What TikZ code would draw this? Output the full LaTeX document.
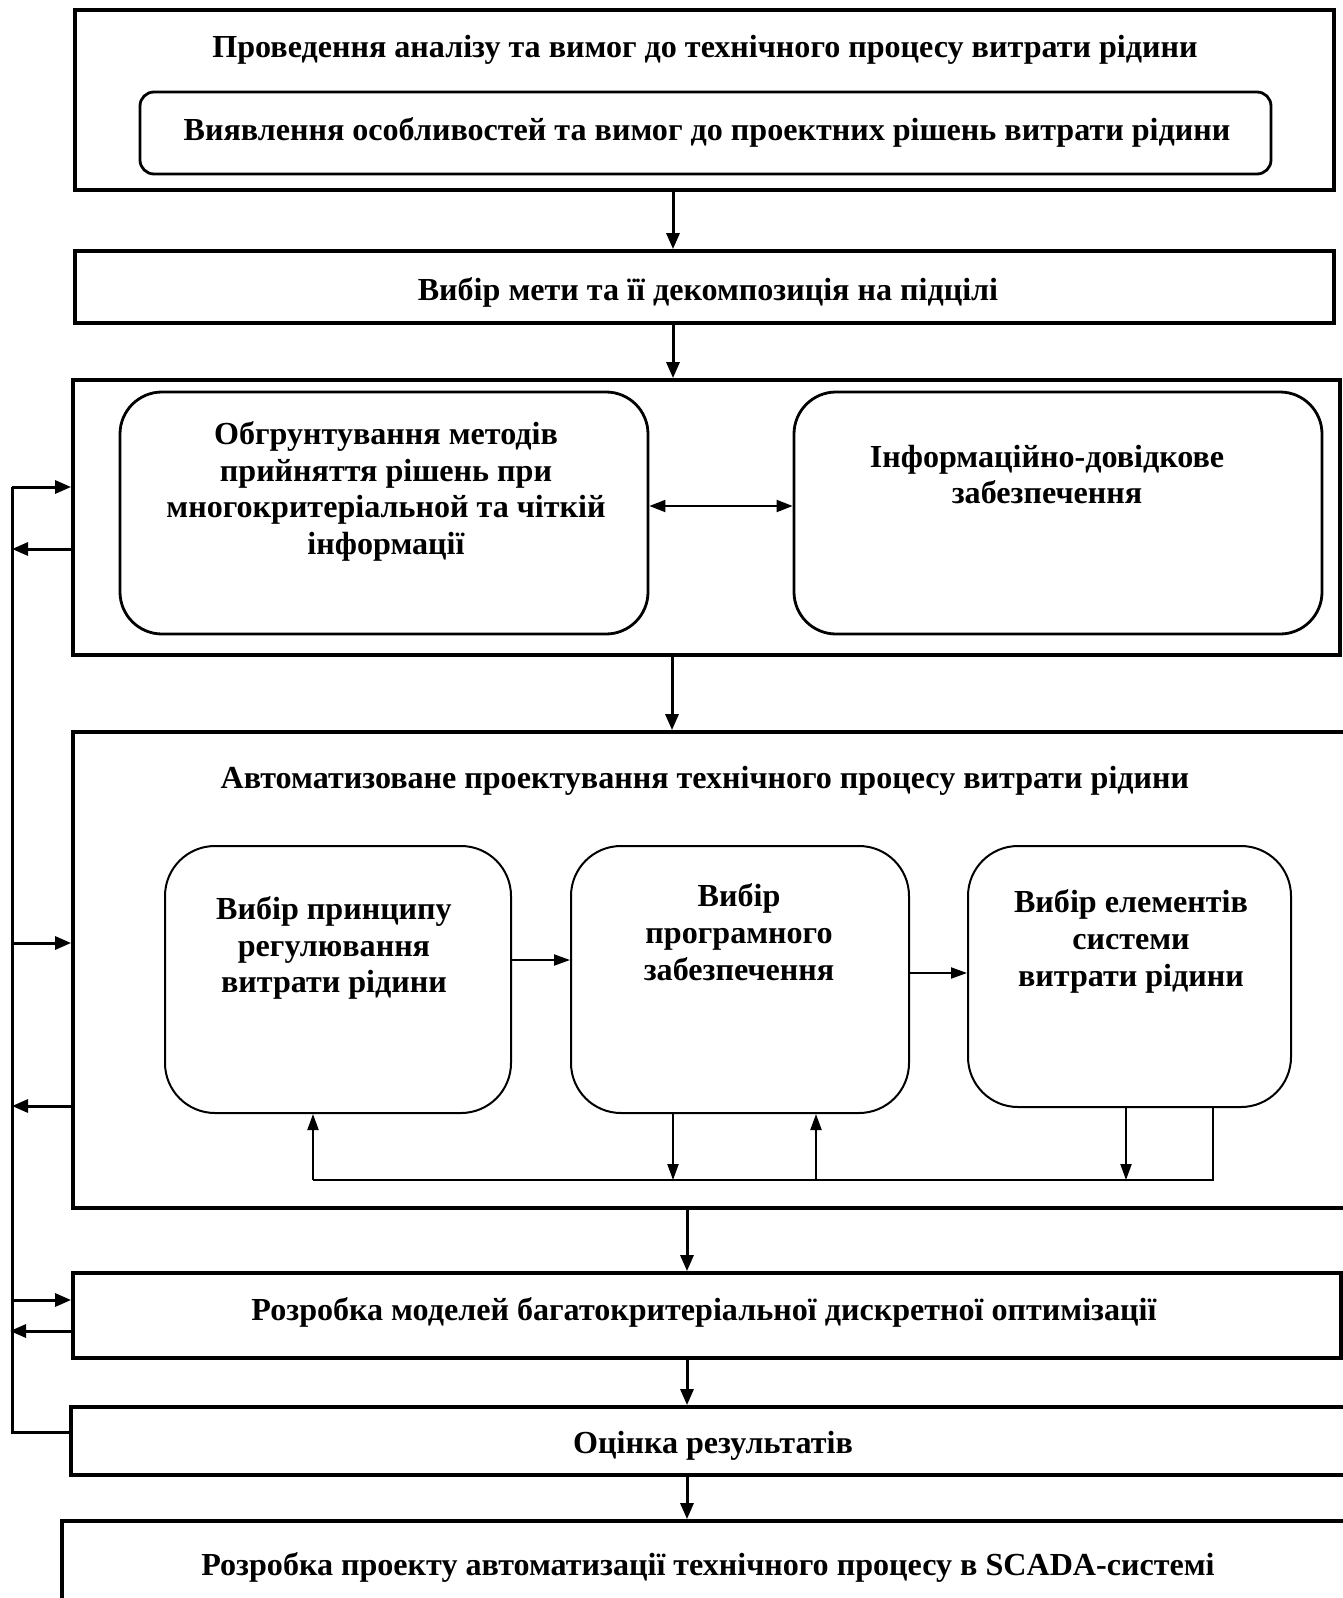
\documentclass[tikz,border=0pt]{standalone}
\usepackage{fontspec}
\setmainfont{Liberation Serif}
\usetikzlibrary{arrows.meta}
\begin{document}
\begin{tikzpicture}[x=1pt,y=-1pt,
  bigbox/.style={draw, line width=3.8pt, inner sep=0pt},
  rbox/.style={draw, line width=2.8pt, inner sep=0pt},
  sbox/.style={draw, line width=2pt, inner sep=0pt},
  txt/.style={font=\fontsize{32.1}{36.7}\selectfont\bfseries, align=center, inner sep=0pt},
  arr/.style={line width=3pt, -{Triangle[length=16pt,width=13pt]}},
  fbl/.style={line width=3pt},
  sarr/.style={line width=2pt, -{Triangle[length=16pt,width=11pt]}},
  sl/.style={line width=2pt}]
\clip (0,0) rectangle (1343,1598);
\fill[white] (0,0) rectangle (1343,1598);
% boxes
\node[bigbox, minimum width=1259pt, minimum height=180pt] (T) at (704.5,100) {};
\node[rbox, rounded corners=14pt, minimum width=1131pt, minimum height=82pt] (I) at (705.5,133) {};
\node[bigbox, minimum width=1259pt, minimum height=72pt] (M) at (704.5,287) {};
\node[bigbox, minimum width=1267pt, minimum height=275pt] (D) at (706.5,517.5) {};
\node[rbox, rounded corners=42pt, minimum width=528pt, minimum height=242pt] (D1) at (384,513) {};
\node[rbox, rounded corners=42pt, minimum width=528pt, minimum height=242pt] (D2) at (1058,513) {};
\node[bigbox, minimum width=1287pt, minimum height=476pt] (A) at (716.5,970) {};
\node[sbox, rounded corners=50pt, minimum width=346pt, minimum height=267pt] (A1) at (338,979.5) {};
\node[sbox, rounded corners=50pt, minimum width=338pt, minimum height=267pt] (A2) at (740,979.5) {};
\node[sbox, rounded corners=50pt, minimum width=323pt, minimum height=261pt] (A3) at (1129.5,976.5) {};
\node[bigbox, minimum width=1268pt, minimum height=85pt] (R) at (707,1315.5) {};
\node[bigbox, minimum width=1289pt, minimum height=68pt] (O) at (715.5,1441) {};
\node[bigbox, minimum width=1298pt, minimum height=129pt] (S) at (711,1585.5) {};
% texts
\node[txt] (tT) at (705,50) {Проведення аналізу та вимог до технічного процесу витрати рідини};
\node[txt] (tI) at (707,132) {Виявлення особливостей та вимог до проектних рішень витрати рідини};
\node[txt] (tM) at (708,292) {Вибір мети та її декомпозиція на підцілі};
\node[txt] (tD1) at (386,491.5) {Обгрунтування методів\\прийняття рішень при\\многокритеріальной та чіткій\\інформації};
\node[txt] (tD2) at (1047,474.5) {Інформаційно-довідкове\\забезпечення};
\node[txt] (tA) at (705,781) {Автоматизоване проектування технічного процесу витрати рідини};
\node[txt] (tA1) at (334,948) {Вибір принципу\\регулювання\\витрати рідини};
\node[txt] (tA2) at (739,932) {Вибір\\програмного\\забезпечення};
\node[txt] (tA3) at (1131,941.5) {Вибір елементів\\системи\\витрати рідини};
\node[txt] (tR) at (704,1312) {Розробка моделей багатокритеріальної дискретної оптимізації};
\node[txt] (tO) at (713,1446) {Оцінка результатів};
\node[txt] (tS) at (708,1567) {Розробка проекту автоматизації технічного процесу в SCADA-системі};
% main arrows
\coordinate (x1) at (673,0);
\coordinate (x2) at (672,0);
\coordinate (x3) at (687,0);
\draw[arr] (T.south -| x1) -- (M.north -| x1);
\draw[arr] (M.south -| x1) -- (D.north -| x1);
\draw[arr] (D.south -| x2) -- (A.north -| x2);
\draw[arr] (A.south -| x3) -- (R.north -| x3);
\draw[arr] (R.south -| x3) -- (O.north -| x3);
\draw[arr] (O.south -| x3) -- (S.north -| x3);
% double arrow
\draw[line width=2pt, {Triangle[length=16pt,width=12pt]}-{Triangle[length=16pt,width=12pt]}] ([yshift=7pt]D1.east) -- ([yshift=7pt]D2.west);
% inner arrows
\draw[sarr] ([yshift=19.5pt]A1.east) -- ([yshift=19.5pt]A2.west);
\draw[sarr] ([yshift=6.5pt]A2.east) -- ([yshift=3.5pt]A3.west);
% bottom connectors
\coordinate (h1) at (313,1180);
\coordinate (h2) at (673,1180);
\coordinate (h3) at (816,1180);
\coordinate (h4) at (1126,1180);
\coordinate (h5) at (1213,1180);
\draw[sl] (h1) -- (h5) -- (A3.south -| h5);
\draw[sarr] (h1) -- (A1.south -| h1);
\draw[sarr] (A2.south -| h2) -- (h2);
\draw[sarr] (h3) -- (A2.south -| h3);
\draw[sarr] (A3.south -| h4) -- (h4);
% feedback
\coordinate (ftop) at (12,487);
\coordinate (f2) at (12,549);
\coordinate (f3) at (12,943);
\coordinate (f4) at (12,1106);
\coordinate (f5) at (12,1300);
\coordinate (f6) at (10,1331);
\draw[fbl] ([yshift=9pt]O.west) -| (ftop);
\draw[arr] (ftop) -- (D.west |- ftop);
\draw[arr] (D.west |- f2) -- (f2);
\draw[arr] (f3) -- (A.west |- f3);
\draw[arr] (A.west |- f4) -- (f4);
\draw[arr] (f5) -- (R.west |- f5);
\draw[arr] (R.west |- f6) -- (f6);
\end{tikzpicture}
\end{document}
